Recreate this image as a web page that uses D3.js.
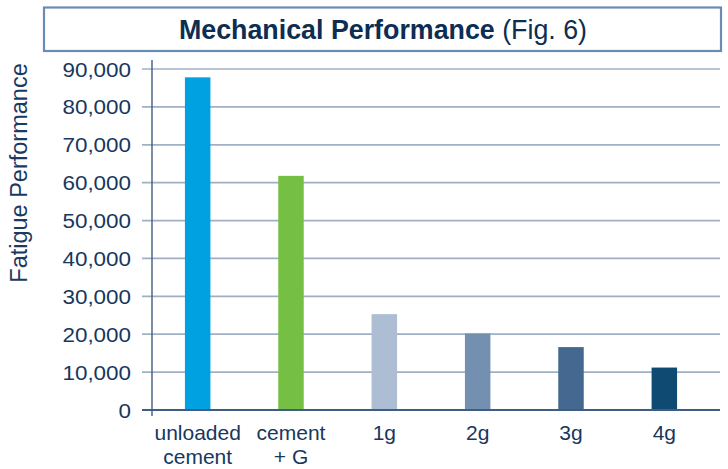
<!DOCTYPE html>
<html>
<head>
<meta charset="utf-8">
<script src="https://cdn.jsdelivr.net/npm/d3@7"></script>
<style>
  html, body { margin: 0; padding: 0; background: #fff; }
  svg { display: block; font-family: "Liberation Sans", Arial, sans-serif; }
</style>
</head>
<body>
<svg id="chart" width="728" height="469"></svg>
<script>
const categories = ["unloaded cement", "cement + G", "1g", "2g", "3g", "4g"];
const categoryLines = [["unloaded", "cement"], ["cement", "+ G"], ["1g"], ["2g"], ["3g"], ["4g"]];
const values = [87800, 61800, 25300, 20200, 16600, 11200];
const barColors = ["#00a1e1", "#75c044", "#adbdd3", "#7390b0", "#44688f", "#0e4a72"];
const yTicks = [0, 10000, 20000, 30000, 40000, 50000, 60000, 70000, 80000, 90000];
const titleBold = "Mechanical Performance";
const titleRest = " (Fig. 6)";
const yLabel = "Fatigue Performance";

const svg = d3.select("#chart");
const textColor = "#17375e";

// Title box
svg.append("rect")
  .attr("x", 44).attr("y", 7.5).attr("width", 677).attr("height", 43.5)
  .attr("fill", "#fff").attr("stroke", "#6a8bb2").attr("stroke-width", 2.2);
const title = svg.append("text")
  .attr("x", 383).attr("y", 38.5).attr("text-anchor", "middle")
  .attr("font-size", 26.8).attr("fill", "#0d2d52");
title.append("tspan").attr("font-weight", "bold").text(titleBold);
title.append("tspan").text(titleRest);

// Scales
const x = d3.scaleBand().domain(categories).range([151, 711])
  .paddingInner(0.727).paddingOuter(0.3635);
const y = d3.scaleLinear().domain([0, 90000]).range([410, 69]);

// Gridlines (with outward tick from 142)
const grid = svg.append("g");
grid.selectAll("line").data(yTicks.filter(d => d > 0)).join("line")
  .attr("x1", 142).attr("x2", 720)
  .attr("y1", d => y(d)).attr("y2", d => y(d))
  .attr("stroke", "#9fb0c4").attr("stroke-width", 1.7);

// Y axis using d3 axis for labels
const fmt = d3.format(",");
const yAxis = svg.append("g").attr("transform", "translate(152,0)")
  .call(d3.axisLeft(y).tickValues(yTicks).tickFormat(fmt).tickSize(0).tickPadding(0));
yAxis.select(".domain").remove();
yAxis.selectAll(".tick text")
  .attr("x", null).attr("dy", null)
  .attr("transform", "translate(-21,7) scale(1.15,1)")
  .attr("font-size", 19.5)
  .attr("font-family", "'Liberation Sans', Arial, sans-serif")
  .attr("fill", textColor);

// Bars
svg.append("g").selectAll("rect").data(values).join("rect")
  .attr("x", (d, i) => x(categories[i]))
  .attr("width", x.bandwidth())
  .attr("y", d => y(d))
  .attr("height", d => y(0) - y(d))
  .attr("fill", (d, i) => barColors[i]);

// Baseline and vertical axis
svg.append("line").attr("x1", 142).attr("x2", 720).attr("y1", y(0)).attr("y2", y(0))
  .attr("stroke", "#3f5d83").attr("stroke-width", 1.8);
svg.append("line").attr("x1", 152).attr("x2", 152).attr("y1", 60).attr("y2", 416)
  .attr("stroke", "#3f5d83").attr("stroke-width", 1.4);

// Category labels
const cat = svg.append("g").selectAll("text").data(categories).join("text")
  .attr("text-anchor", "middle")
  .attr("font-size", 21)
  .attr("fill", textColor);
cat.each(function(d, i) {
  const t = d3.select(this);
  const cx = x(d) + x.bandwidth() / 2;
  categoryLines[i].forEach((ln, j) => {
    t.append("tspan").attr("x", cx).attr("y", 440 + j * 24).text(ln);
  });
});

// Y label
svg.append("text")
  .attr("transform", "translate(27,173) rotate(-90)")
  .attr("text-anchor", "middle")
  .attr("font-size", 23.5)
  .attr("fill", "#1b3a62")
  .text(yLabel);
</script>
</body>
</html>
